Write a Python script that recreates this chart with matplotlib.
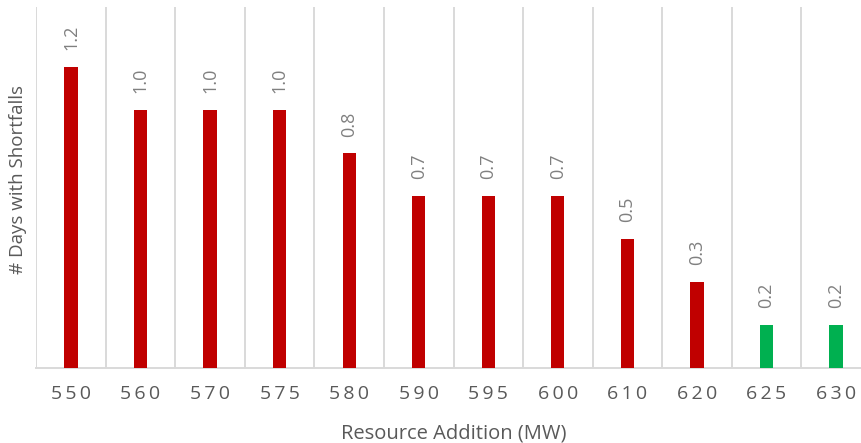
import matplotlib
matplotlib.use("Agg")
import matplotlib.pyplot as plt

# Resource additions (MW) and average days with shortfalls
categories = ["550", "560", "570", "575", "580", "590", "595", "600", "610", "620", "625", "630"]
days = [1.167, 1.0, 1.0, 1.0, 0.833, 0.667, 0.667, 0.667, 0.5, 0.333, 0.167, 0.167]
bar_colors = ["#C00000"] * 10 + ["#00B050"] * 2

plt.rcParams["font.family"] = ["Open Sans", "DejaVu Sans"]

fig = plt.figure(figsize=(8.61, 4.43), dpi=100)
ax = fig.add_axes([36.25 / 861, 75 / 443, 834.5 / 861, 361 / 443])

x = list(range(len(categories)))
bars = ax.bar(x, days, width=0.19, color=bar_colors, zorder=3)

# vertical separators between categories
for i in range(len(categories) + 1):
    ax.axvline(i - 0.5, color="#d9d9d9", lw=1.4, zorder=1)

ax.set_xlim(-0.5, len(categories) - 0.5)
ax.set_ylim(0, 1.4)

for s in ("top", "right", "left"):
    ax.spines[s].set_visible(False)
ax.spines["bottom"].set_color("#d9d9d9")
ax.spines["bottom"].set_linewidth(1.4)

ax.set_yticks([])
ax.set_xticks(x)
ax.set_xticklabels(["\u2009".join(c) for c in categories], fontsize=14, color="#595959")
ax.tick_params(axis="x", length=0, pad=12)

for xi, v in zip(x, days):
    ax.annotate(f"{v:.1f}", (xi, v), xytext=(0, 12), textcoords="offset points",
                rotation=90, ha="center", va="bottom", fontsize=13, color="#808080")

ax.set_xlabel("Resource Addition (MW)", fontsize=14.5, color="#595959", labelpad=15)
fig.text(18 / 861, 1 - 180 / 443, "# Days with Shortfalls", rotation=90,
         ha="center", va="center", fontsize=13.5, color="#595959")

fig.savefig("out.png", dpi=100)
